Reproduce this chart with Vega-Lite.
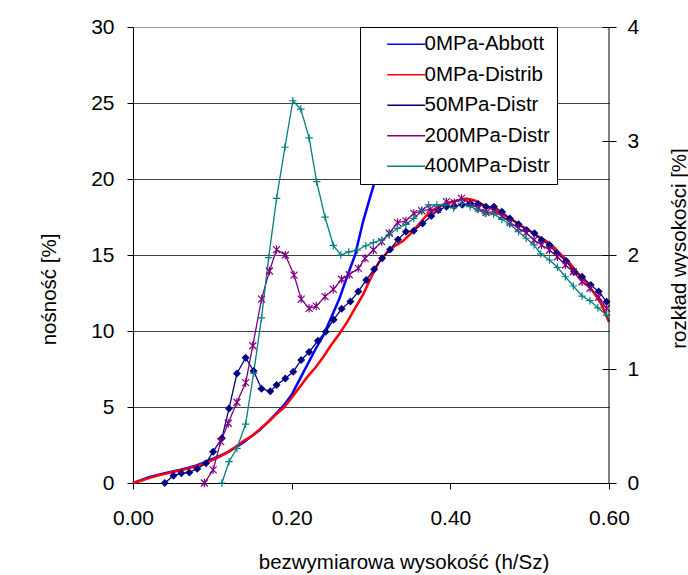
{
"$schema": "https://vega.github.io/schema/vega-lite/v6.json",
"width": 476, "height": 456,
"autosize": "none",
"padding": {"left": 133, "top": 27, "right": 79, "bottom": 92},
"background": "white",
"config": {"font": "Liberation Sans", "view": {"stroke": null},
  "axis": {"domainColor": "black", "tickColor": "black", "labelColor": "black", "titleColor": "black", "titleFontWeight": "normal", "labelFontSize": 21, "titleFontSize": 20.5, "labelFlush": false, "labelOverlap": false}},
"datasets": {
"abbott": [
{"s":"0MPa-Abbott","h":0,"v":0},{"s":"0MPa-Abbott","h":0.01,"v":0.18},{"s":"0MPa-Abbott","h":0.02,"v":0.38},{"s":"0MPa-Abbott","h":0.03,"v":0.52},{"s":"0MPa-Abbott","h":0.04,"v":0.65},{"s":"0MPa-Abbott","h":0.05,"v":0.76},{"s":"0MPa-Abbott","h":0.06,"v":0.87},{"s":"0MPa-Abbott","h":0.07,"v":1.0},{"s":"0MPa-Abbott","h":0.08,"v":1.15},{"s":"0MPa-Abbott","h":0.09,"v":1.35},{"s":"0MPa-Abbott","h":0.10,"v":1.58},{"s":"0MPa-Abbott","h":0.11,"v":1.8},{"s":"0MPa-Abbott","h":0.12,"v":2.05},{"s":"0MPa-Abbott","h":0.13,"v":2.35},{"s":"0MPa-Abbott","h":0.14,"v":2.7},{"s":"0MPa-Abbott","h":0.15,"v":3.1},{"s":"0MPa-Abbott","h":0.16,"v":3.5},{"s":"0MPa-Abbott","h":0.17,"v":4.0},{"s":"0MPa-Abbott","h":0.18,"v":4.55},{"s":"0MPa-Abbott","h":0.19,"v":5.1},{"s":"0MPa-Abbott","h":0.20,"v":5.8},{"s":"0MPa-Abbott","h":0.21,"v":6.8},{"s":"0MPa-Abbott","h":0.22,"v":7.8},{"s":"0MPa-Abbott","h":0.23,"v":8.8},{"s":"0MPa-Abbott","h":0.24,"v":9.7},{"s":"0MPa-Abbott","h":0.25,"v":10.9},{"s":"0MPa-Abbott","h":0.26,"v":12.1},{"s":"0MPa-Abbott","h":0.27,"v":13.6},{"s":"0MPa-Abbott","h":0.28,"v":15.0},{"s":"0MPa-Abbott","h":0.29,"v":17.2},{"s":"0MPa-Abbott","h":0.30,"v":19.0},{"s":"0MPa-Abbott","h":0.31,"v":20.7},{"s":"0MPa-Abbott","h":0.32,"v":22.5},{"s":"0MPa-Abbott","h":0.33,"v":24.5}
],
"dist": [
{"s":"0MPa-Distrib","h":0,"v":0},{"s":"0MPa-Distrib","h":0.01,"v":0.020},{"s":"0MPa-Distrib","h":0.02,"v":0.043},{"s":"0MPa-Distrib","h":0.03,"v":0.064},{"s":"0MPa-Distrib","h":0.04,"v":0.080},{"s":"0MPa-Distrib","h":0.05,"v":0.096},{"s":"0MPa-Distrib","h":0.06,"v":0.112},{"s":"0MPa-Distrib","h":0.07,"v":0.128},{"s":"0MPa-Distrib","h":0.08,"v":0.147},{"s":"0MPa-Distrib","h":0.09,"v":0.171},{"s":"0MPa-Distrib","h":0.10,"v":0.200},{"s":"0MPa-Distrib","h":0.11,"v":0.233},{"s":"0MPa-Distrib","h":0.12,"v":0.273},{"s":"0MPa-Distrib","h":0.13,"v":0.320},{"s":"0MPa-Distrib","h":0.14,"v":0.373},{"s":"0MPa-Distrib","h":0.15,"v":0.413},{"s":"0MPa-Distrib","h":0.16,"v":0.473},{"s":"0MPa-Distrib","h":0.17,"v":0.533},{"s":"0MPa-Distrib","h":0.18,"v":0.600},{"s":"0MPa-Distrib","h":0.19,"v":0.660},{"s":"0MPa-Distrib","h":0.20,"v":0.747},{"s":"0MPa-Distrib","h":0.21,"v":0.840},{"s":"0MPa-Distrib","h":0.22,"v":0.933},{"s":"0MPa-Distrib","h":0.23,"v":1.013},{"s":"0MPa-Distrib","h":0.24,"v":1.107},{"s":"0MPa-Distrib","h":0.25,"v":1.213},{"s":"0MPa-Distrib","h":0.26,"v":1.307},{"s":"0MPa-Distrib","h":0.27,"v":1.413},{"s":"0MPa-Distrib","h":0.28,"v":1.533},{"s":"0MPa-Distrib","h":0.29,"v":1.653},{"s":"0MPa-Distrib","h":0.30,"v":1.800},{"s":"0MPa-Distrib","h":0.31,"v":1.940},{"s":"0MPa-Distrib","h":0.32,"v":2.020},{"s":"0MPa-Distrib","h":0.33,"v":2.080},{"s":"0MPa-Distrib","h":0.34,"v":2.120},{"s":"0MPa-Distrib","h":0.35,"v":2.187},{"s":"0MPa-Distrib","h":0.36,"v":2.267},{"s":"0MPa-Distrib","h":0.37,"v":2.347},{"s":"0MPa-Distrib","h":0.38,"v":2.400},{"s":"0MPa-Distrib","h":0.39,"v":2.440},{"s":"0MPa-Distrib","h":0.40,"v":2.460},{"s":"0MPa-Distrib","h":0.41,"v":2.480},{"s":"0MPa-Distrib","h":0.42,"v":2.496},{"s":"0MPa-Distrib","h":0.43,"v":2.480},{"s":"0MPa-Distrib","h":0.44,"v":2.447},{"s":"0MPa-Distrib","h":0.45,"v":2.413},{"s":"0MPa-Distrib","h":0.46,"v":2.380},{"s":"0MPa-Distrib","h":0.47,"v":2.340},{"s":"0MPa-Distrib","h":0.48,"v":2.300},{"s":"0MPa-Distrib","h":0.49,"v":2.253},{"s":"0MPa-Distrib","h":0.50,"v":2.213},{"s":"0MPa-Distrib","h":0.51,"v":2.167},{"s":"0MPa-Distrib","h":0.52,"v":2.127},{"s":"0MPa-Distrib","h":0.53,"v":2.073},{"s":"0MPa-Distrib","h":0.54,"v":2.000},{"s":"0MPa-Distrib","h":0.55,"v":1.933},{"s":"0MPa-Distrib","h":0.56,"v":1.847},{"s":"0MPa-Distrib","h":0.57,"v":1.767},{"s":"0MPa-Distrib","h":0.58,"v":1.680},{"s":"0MPa-Distrib","h":0.59,"v":1.573},{"s":"0MPa-Distrib","h":0.60,"v":1.413},
{"s":"50MPa-Distr","h":0.040,"v":0},{"s":"50MPa-Distr","h":0.051,"v":0.064},{"s":"50MPa-Distr","h":0.061,"v":0.085},{"s":"50MPa-Distr","h":0.071,"v":0.093},{"s":"50MPa-Distr","h":0.081,"v":0.125},{"s":"50MPa-Distr","h":0.092,"v":0.173},{"s":"50MPa-Distr","h":0.101,"v":0.275},{"s":"50MPa-Distr","h":0.112,"v":0.392},{"s":"50MPa-Distr","h":0.121,"v":0.653},{"s":"50MPa-Distr","h":0.131,"v":0.960},{"s":"50MPa-Distr","h":0.142,"v":1.099},{"s":"50MPa-Distr","h":0.152,"v":0.983},{"s":"50MPa-Distr","h":0.162,"v":0.827},{"s":"50MPa-Distr","h":0.173,"v":0.804},{"s":"50MPa-Distr","h":0.181,"v":0.860},{"s":"50MPa-Distr","h":0.192,"v":0.916},{"s":"50MPa-Distr","h":0.202,"v":0.976},{"s":"50MPa-Distr","h":0.212,"v":1.079},{"s":"50MPa-Distr","h":0.222,"v":1.149},{"s":"50MPa-Distr","h":0.233,"v":1.248},{"s":"50MPa-Distr","h":0.243,"v":1.327},{"s":"50MPa-Distr","h":0.253,"v":1.433},{"s":"50MPa-Distr","h":0.263,"v":1.528},{"s":"50MPa-Distr","h":0.274,"v":1.593},{"s":"50MPa-Distr","h":0.284,"v":1.679},{"s":"50MPa-Distr","h":0.294,"v":1.781},{"s":"50MPa-Distr","h":0.304,"v":1.875},{"s":"50MPa-Distr","h":0.314,"v":1.971},{"s":"50MPa-Distr","h":0.324,"v":2.049},{"s":"50MPa-Distr","h":0.334,"v":2.137},{"s":"50MPa-Distr","h":0.344,"v":2.204},{"s":"50MPa-Distr","h":0.354,"v":2.213},{"s":"50MPa-Distr","h":0.365,"v":2.277},{"s":"50MPa-Distr","h":0.376,"v":2.343},{"s":"50MPa-Distr","h":0.385,"v":2.395},{"s":"50MPa-Distr","h":0.395,"v":2.424},{"s":"50MPa-Distr","h":0.405,"v":2.429},{"s":"50MPa-Distr","h":0.415,"v":2.440},{"s":"50MPa-Distr","h":0.425,"v":2.453},{"s":"50MPa-Distr","h":0.435,"v":2.448},{"s":"50MPa-Distr","h":0.445,"v":2.424},{"s":"50MPa-Distr","h":0.455,"v":2.424},{"s":"50MPa-Distr","h":0.465,"v":2.380},{"s":"50MPa-Distr","h":0.475,"v":2.321},{"s":"50MPa-Distr","h":0.486,"v":2.269},{"s":"50MPa-Distr","h":0.496,"v":2.219},{"s":"50MPa-Distr","h":0.506,"v":2.191},{"s":"50MPa-Distr","h":0.515,"v":2.132},{"s":"50MPa-Distr","h":0.525,"v":2.088},{"s":"50MPa-Distr","h":0.534,"v":2.015},{"s":"50MPa-Distr","h":0.546,"v":1.947},{"s":"50MPa-Distr","h":0.556,"v":1.853},{"s":"50MPa-Distr","h":0.566,"v":1.809},{"s":"50MPa-Distr","h":0.577,"v":1.737},{"s":"50MPa-Distr","h":0.587,"v":1.679},{"s":"50MPa-Distr","h":0.597,"v":1.591},
{"s":"200MPa-Distr","h":0.090,"v":0},{"s":"200MPa-Distr","h":0.101,"v":0.115},{"s":"200MPa-Distr","h":0.1105,"v":0.363},{"s":"200MPa-Distr","h":0.120,"v":0.524},{"s":"200MPa-Distr","h":0.131,"v":0.708},{"s":"200MPa-Distr","h":0.142,"v":0.880},{"s":"200MPa-Distr","h":0.151,"v":1.204},{"s":"200MPa-Distr","h":0.162,"v":1.613},{"s":"200MPa-Distr","h":0.172,"v":1.860},{"s":"200MPa-Distr","h":0.181,"v":2.047},{"s":"200MPa-Distr","h":0.192,"v":2.000},{"s":"200MPa-Distr","h":0.203,"v":1.824},{"s":"200MPa-Distr","h":0.212,"v":1.613},{"s":"200MPa-Distr","h":0.222,"v":1.532},{"s":"200MPa-Distr","h":0.231,"v":1.552},{"s":"200MPa-Distr","h":0.242,"v":1.635},{"s":"200MPa-Distr","h":0.2525,"v":1.699},{"s":"200MPa-Distr","h":0.263,"v":1.787},{"s":"200MPa-Distr","h":0.2725,"v":1.827},{"s":"200MPa-Distr","h":0.284,"v":1.883},{"s":"200MPa-Distr","h":0.2925,"v":1.971},{"s":"200MPa-Distr","h":0.303,"v":2.044},{"s":"200MPa-Distr","h":0.3135,"v":2.117},{"s":"200MPa-Distr","h":0.323,"v":2.191},{"s":"200MPa-Distr","h":0.3335,"v":2.284},{"s":"200MPa-Distr","h":0.344,"v":2.299},{"s":"200MPa-Distr","h":0.354,"v":2.365},{"s":"200MPa-Distr","h":0.364,"v":2.388},{"s":"200MPa-Distr","h":0.3745,"v":2.400},{"s":"200MPa-Distr","h":0.384,"v":2.400},{"s":"200MPa-Distr","h":0.395,"v":2.468},{"s":"200MPa-Distr","h":0.405,"v":2.459},{"s":"200MPa-Distr","h":0.414,"v":2.497},{"s":"200MPa-Distr","h":0.425,"v":2.453},{"s":"200MPa-Distr","h":0.4355,"v":2.409},{"s":"200MPa-Distr","h":0.445,"v":2.373},{"s":"200MPa-Distr","h":0.455,"v":2.380},{"s":"200MPa-Distr","h":0.465,"v":2.343},{"s":"200MPa-Distr","h":0.4755,"v":2.284},{"s":"200MPa-Distr","h":0.486,"v":2.233},{"s":"200MPa-Distr","h":0.4955,"v":2.196},{"s":"200MPa-Distr","h":0.5055,"v":2.132},{"s":"200MPa-Distr","h":0.515,"v":2.088},{"s":"200MPa-Distr","h":0.525,"v":2.044},{"s":"200MPa-Distr","h":0.535,"v":1.985},{"s":"200MPa-Distr","h":0.545,"v":1.912},{"s":"200MPa-Distr","h":0.555,"v":1.853},{"s":"200MPa-Distr","h":0.566,"v":1.765},{"s":"200MPa-Distr","h":0.576,"v":1.708},{"s":"200MPa-Distr","h":0.587,"v":1.629},{"s":"200MPa-Distr","h":0.597,"v":1.532},
{"s":"400MPa-Distr","h":0.112,"v":0},{"s":"400MPa-Distr","h":0.121,"v":0.187},{"s":"400MPa-Distr","h":0.131,"v":0.304},{"s":"400MPa-Distr","h":0.142,"v":0.517},{"s":"400MPa-Distr","h":0.152,"v":0.963},{"s":"400MPa-Distr","h":0.162,"v":1.449},{"s":"400MPa-Distr","h":0.171,"v":1.977},{"s":"400MPa-Distr","h":0.181,"v":2.497},{"s":"400MPa-Distr","h":0.1915,"v":2.945},{"s":"400MPa-Distr","h":0.2015,"v":3.353},{"s":"400MPa-Distr","h":0.2115,"v":3.280},{"s":"400MPa-Distr","h":0.222,"v":3.027},{"s":"400MPa-Distr","h":0.2315,"v":2.643},{"s":"400MPa-Distr","h":0.242,"v":2.333},{"s":"400MPa-Distr","h":0.2525,"v":2.084},{"s":"400MPa-Distr","h":0.262,"v":2.000},{"s":"400MPa-Distr","h":0.272,"v":2.027},{"s":"400MPa-Distr","h":0.283,"v":2.044},{"s":"400MPa-Distr","h":0.2935,"v":2.081},{"s":"400MPa-Distr","h":0.303,"v":2.108},{"s":"400MPa-Distr","h":0.3135,"v":2.132},{"s":"400MPa-Distr","h":0.323,"v":2.176},{"s":"400MPa-Distr","h":0.333,"v":2.233},{"s":"400MPa-Distr","h":0.344,"v":2.269},{"s":"400MPa-Distr","h":0.354,"v":2.321},{"s":"400MPa-Distr","h":0.364,"v":2.388},{"s":"400MPa-Distr","h":0.3725,"v":2.439},{"s":"400MPa-Distr","h":0.383,"v":2.439},{"s":"400MPa-Distr","h":0.393,"v":2.439},{"s":"400MPa-Distr","h":0.404,"v":2.413},{"s":"400MPa-Distr","h":0.414,"v":2.453},{"s":"400MPa-Distr","h":0.425,"v":2.424},{"s":"400MPa-Distr","h":0.434,"v":2.400},{"s":"400MPa-Distr","h":0.444,"v":2.365},{"s":"400MPa-Distr","h":0.4545,"v":2.360},{"s":"400MPa-Distr","h":0.465,"v":2.313},{"s":"400MPa-Distr","h":0.4745,"v":2.272},{"s":"400MPa-Distr","h":0.486,"v":2.204},{"s":"400MPa-Distr","h":0.4955,"v":2.147},{"s":"400MPa-Distr","h":0.5055,"v":2.088},{"s":"400MPa-Distr","h":0.514,"v":2.009},{"s":"400MPa-Distr","h":0.525,"v":1.956},{"s":"400MPa-Distr","h":0.535,"v":1.892},{"s":"400MPa-Distr","h":0.545,"v":1.809},{"s":"400MPa-Distr","h":0.555,"v":1.728},{"s":"400MPa-Distr","h":0.566,"v":1.640},{"s":"400MPa-Distr","h":0.576,"v":1.599},{"s":"400MPa-Distr","h":0.586,"v":1.537},{"s":"400MPa-Distr","h":0.597,"v":1.473}
]
},
"layer": [
{
  "data": {"name": "abbott"},
  "mark": {"type": "line", "strokeWidth": 2.5},
  "encoding": {
    "x": {"field": "h", "type": "quantitative", "scale": {"domain": [0, 0.6], "nice": false},
      "axis": {"values": [0, 0.2, 0.4, 0.6], "format": ".2f", "tickSize": 6, "labelPadding": 18, "grid": false, "title": "bezwymiarowa wysokość (h/Sz)", "titleX": 270.5, "titleY": 85, "titleAlign": "center", "titleBaseline": "alphabetic"}},
    "y": {"field": "v", "type": "quantitative", "scale": {"domain": [0, 30], "nice": false},
      "axis": {"orient": "left", "values": [0, 5, 10, 15, 20, 25, 30], "format": "d", "tickSize": 6, "labelPadding": 13, "grid": true,
        "gridColor": {"condition": {"test": "datum.value === 30", "value": "#a0a0a0"}, "value": "#404040"},
        "title": "nośność [%]", "titleAngle": 270, "titleX": -84, "titleY": 262, "titleAlign": "center", "titleBaseline": "middle"}},
    "color": {"field": "s", "type": "nominal",
      "scale": {"domain": ["0MPa-Abbott", "0MPa-Distrib", "50MPa-Distr", "200MPa-Distr", "400MPa-Distr"], "range": ["#0000ff", "#ff0000", "#000080", "#800080", "#008080"]},
      "legend": {"orient": "none", "legendX": 227, "legendY": 0, "title": null, "padding": 7, "strokeColor": "black", "fillColor": "white", "labelFontSize": 20.5, "labelColor": "black", "symbolSize": 100, "symbolOffset": 29, "labelOffset": 8, "rowPadding": 9.5, "symbolFillColor": "#000080",
        "labelExpr": "datum.label + '\u00a0\u00a0\u00a0\u00a0'",
        "encode": {"symbols": {"update": {
          "shape": {"condition": [
            {"test": "datum.value === '50MPa-Distr'", "value": "M-3.8,0H3.8M0,-0.9L0.9,0L0,0.9L-0.9,0Z"},
            {"test": "datum.value === '200MPa-Distr'", "value": "M-3.8,0H3.8M-0.7,-0.7L0.7,0.7M-0.7,0.7L0.7,-0.7M0,-0.9V0.9"},
            {"test": "datum.value === '400MPa-Distr'", "value": "M-3.8,0H3.8M0,-0.8V0.8"}],
            "value": "M-3.8,0H3.8"},
          "fill": {"condition": {"test": "datum.value === '50MPa-Distr'", "value": "#000080"}, "value": "transparent"},
          "strokeWidth": {"condition": {"test": "datum.value === '0MPa-Abbott' || datum.value === '0MPa-Distrib'", "value": 2.5}, "value": 1.3}
        }}}}}
  }
},
{
  "data": {"name": "dist"},
  "layer": [
    {
      "transform": [{"filter": "datum.s === '0MPa-Distrib'"}],
      "mark": {"type": "line", "strokeWidth": 2.5},
      "encoding": {
        "x": {"field": "h", "type": "quantitative", "scale": {"domain": [0, 0.6], "nice": false}},
        "y": {"field": "v", "type": "quantitative", "scale": {"domain": [0, 4], "nice": false},
          "axis": {"orient": "right", "values": [0, 1, 2, 3, 4], "format": "d", "offset": -7, "tickSize": 14, "domain": false, "labelPadding": 11, "grid": false,
            "title": "rozkład wysokości [%]", "titleAngle": 270, "titleX": 77, "titleY": 221, "titleAlign": "center", "titleBaseline": "middle"}},
        "color": {"field": "s", "type": "nominal",
          "scale": {"domain": ["0MPa-Abbott", "0MPa-Distrib", "50MPa-Distr", "200MPa-Distr", "400MPa-Distr"], "range": ["#0000ff", "#ff0000", "#000080", "#800080", "#008080"]}}
      }
    },
    {
      "transform": [{"filter": "datum.s !== '0MPa-Distrib'"}],
      "mark": {"type": "line", "strokeWidth": 1.3},
      "encoding": {
        "x": {"field": "h", "type": "quantitative", "scale": {"domain": [0, 0.6], "nice": false}},
        "y": {"field": "v", "type": "quantitative", "scale": {"domain": [0, 4], "nice": false}},
        "color": {"field": "s", "type": "nominal",
          "scale": {"domain": ["0MPa-Abbott", "0MPa-Distrib", "50MPa-Distr", "200MPa-Distr", "400MPa-Distr"], "range": ["#0000ff", "#ff0000", "#000080", "#800080", "#008080"]}}
      }
    },
    {
      "transform": [{"filter": "datum.s === '50MPa-Distr'"}],
      "mark": {"type": "point", "shape": "diamond", "filled": true, "size": 64, "color": "#000080", "opacity": 1},
      "encoding": {
        "x": {"field": "h", "type": "quantitative", "scale": {"domain": [0, 0.6], "nice": false}},
        "y": {"field": "v", "type": "quantitative", "scale": {"domain": [0, 4], "nice": false}}
      }
    },
    {
      "transform": [{"filter": "datum.s === '200MPa-Distr'"}],
      "mark": {"type": "point", "shape": "M-1,-1L1,1M-1,1L1,-1M0,-1.2V1.2", "filled": false, "size": 49, "color": "#800080", "strokeWidth": 1.2, "opacity": 1},
      "encoding": {
        "x": {"field": "h", "type": "quantitative", "scale": {"domain": [0, 0.6], "nice": false}},
        "y": {"field": "v", "type": "quantitative", "scale": {"domain": [0, 4], "nice": false}}
      }
    },
    {
      "transform": [{"filter": "datum.s === '400MPa-Distr'"}],
      "mark": {"type": "point", "shape": "M-1,0H1M0,-1V1", "filled": false, "size": 56, "color": "#008080", "strokeWidth": 1.2, "opacity": 1},
      "encoding": {
        "x": {"field": "h", "type": "quantitative", "scale": {"domain": [0, 0.6], "nice": false}},
        "y": {"field": "v", "type": "quantitative", "scale": {"domain": [0, 4], "nice": false}}
      }
    },
    {
      "data": {"values": [{}]},
      "mark": {"type": "rule", "color": "black", "strokeWidth": 1},
      "encoding": {"x": {"datum": 0.6}}
    }
  ]
}
],
"resolve": {"scale": {"y": "independent"}, "axis": {"y": "independent"}}
}
